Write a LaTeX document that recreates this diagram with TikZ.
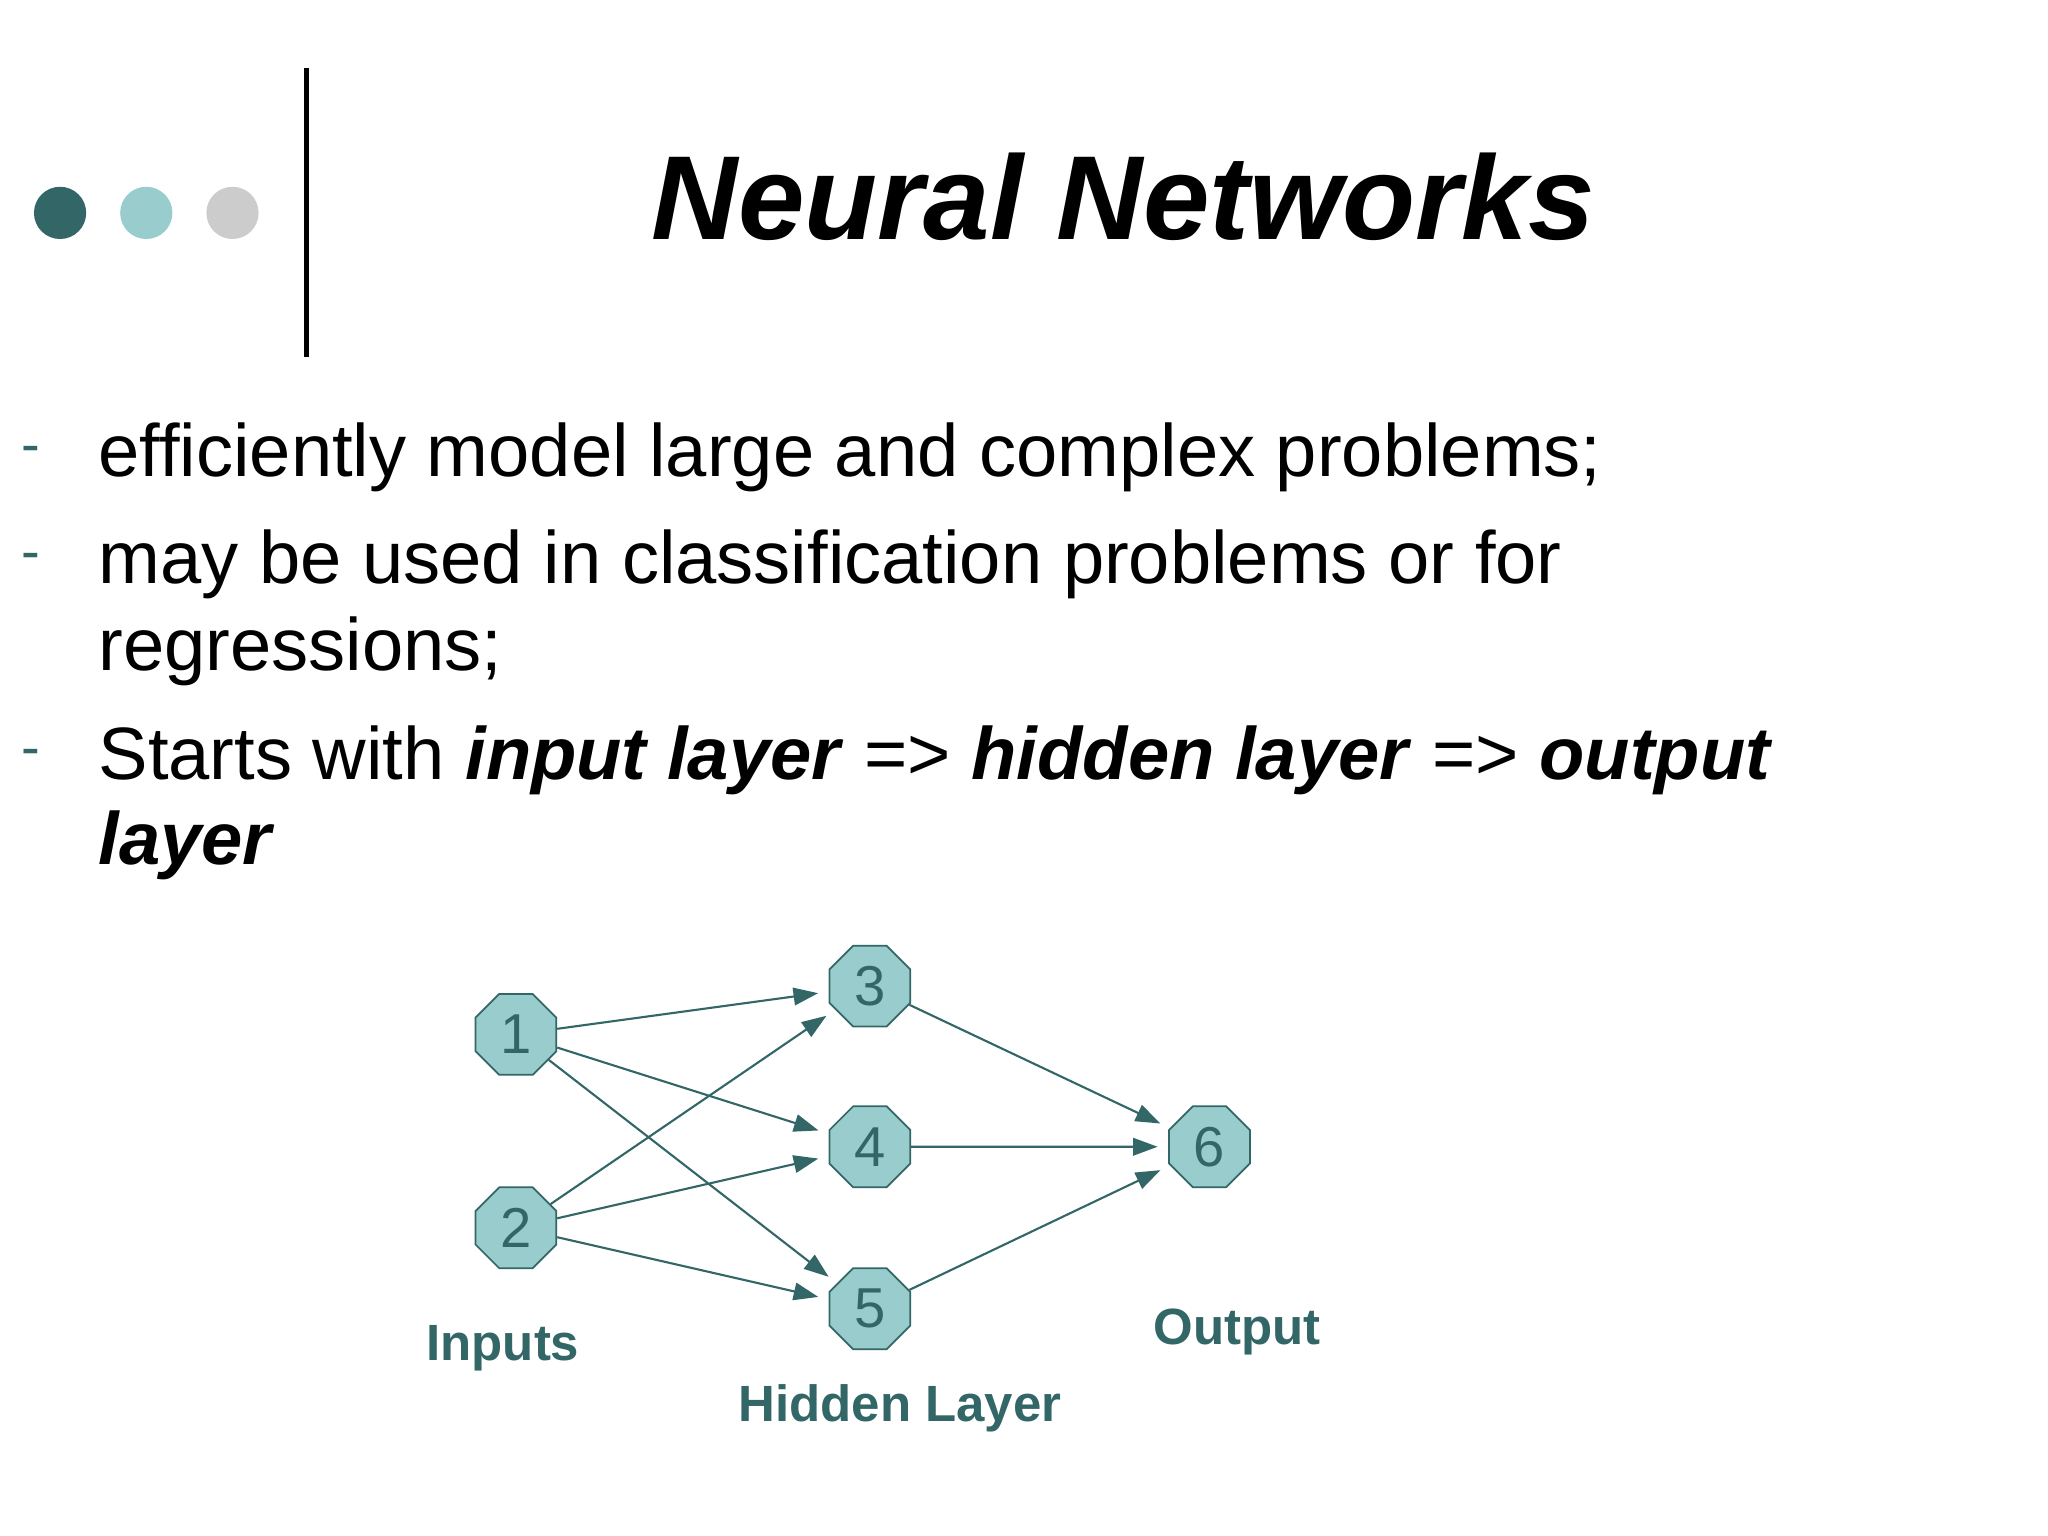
\documentclass[tikz,border=0pt]{standalone}
\usepackage{fontspec}
\setmainfont{Liberation Sans}
\usetikzlibrary{shapes.geometric,arrows.meta}
\definecolor{teal1}{HTML}{336666}
\definecolor{aqua1}{HTML}{99CCCC}
\definecolor{grey1}{HTML}{CCCCCC}
\begin{document}
\begin{tikzpicture}[x=0.01306cm,y=-0.01306cm,
  neuron/.style={regular polygon,regular polygon sides=8,
    minimum size=0.875cm,inner sep=0pt,fill=aqua1,draw=teal1,line width=0.5pt,
    text=teal1,font=\fontsize{16}{16}\selectfont},
  link/.style={draw=teal1,line width=0.6pt,-{Triangle[length=7pt,width=5pt]},shorten >=3pt},
  layer/.style={text=teal1,font=\fontsize{14.5}{16}\selectfont\bfseries},
  bullet/.style={anchor=base west,inner sep=0pt,font=\fontsize{21.1}{24}\selectfont},
  bmark/.style={anchor=base west,inner sep=0pt,text=teal1,font=\fontsize{16}{20}\selectfont}]
  \useasboundingbox (0,0) rectangle (1568,1176);
  \fill[white] (0,0) rectangle (1568,1176);
  % header
  \fill[teal1] (46,163) circle (20);
  \fill[aqua1] (112,163) circle (20);
  \fill[grey1] (178,163) circle (20);
  \draw[line width=1.4pt] (235,52) -- (235,273);
  \node[anchor=base,inner sep=0pt,font=\fontsize{34}{40}\selectfont\bfseries\itshape] (title) at (860,183) {Neural Networks};
  % bullets
  \node[bmark] (d1) at (16,355) {-};
  \node[bmark] (d2) at (16,437) {-};
  \node[bmark] (d3) at (16,587) {-};
  \node[bullet] (l1) at (75,365) {efficiently model large and complex problems;};
  \node[bullet] (l2) at (75,447) {may be used in classification problems or for};
  \node[bullet] (l3) at (75,513) {regressions;};
  \node[bullet] (l4) at (75,597) {Starts with \textbf{\textit{input layer}} => \textbf{\textit{hidden layer}} => \textbf{\textit{output}}};
  \node[bullet] (l5) at (75,662) {\textbf{\textit{layer}}};
  % network
  \node[neuron] (n1) at (395,792) {1};
  \node[neuron] (n2) at (395,940) {2};
  \node[neuron] (n3) at (666,755) {3};
  \node[neuron] (n4) at (666,878) {4};
  \node[neuron] (n5) at (666,1002) {5};
  \node[neuron] (n6) at (926,878) {6};
  \foreach \a/\b in {n1/n3,n1/n4,n1/n5,n2/n3,n2/n4,n2/n5,n3/n6,n4/n6,n5/n6}
    \draw[link] (\a) -- (\b);
  \node[layer] (inputs) at (385,1032) {Inputs};
  \node[layer] (hidden) at (689,1078) {Hidden Layer};
  \node[layer] (output) at (947,1020) {Output};
\end{tikzpicture}
\end{document}
